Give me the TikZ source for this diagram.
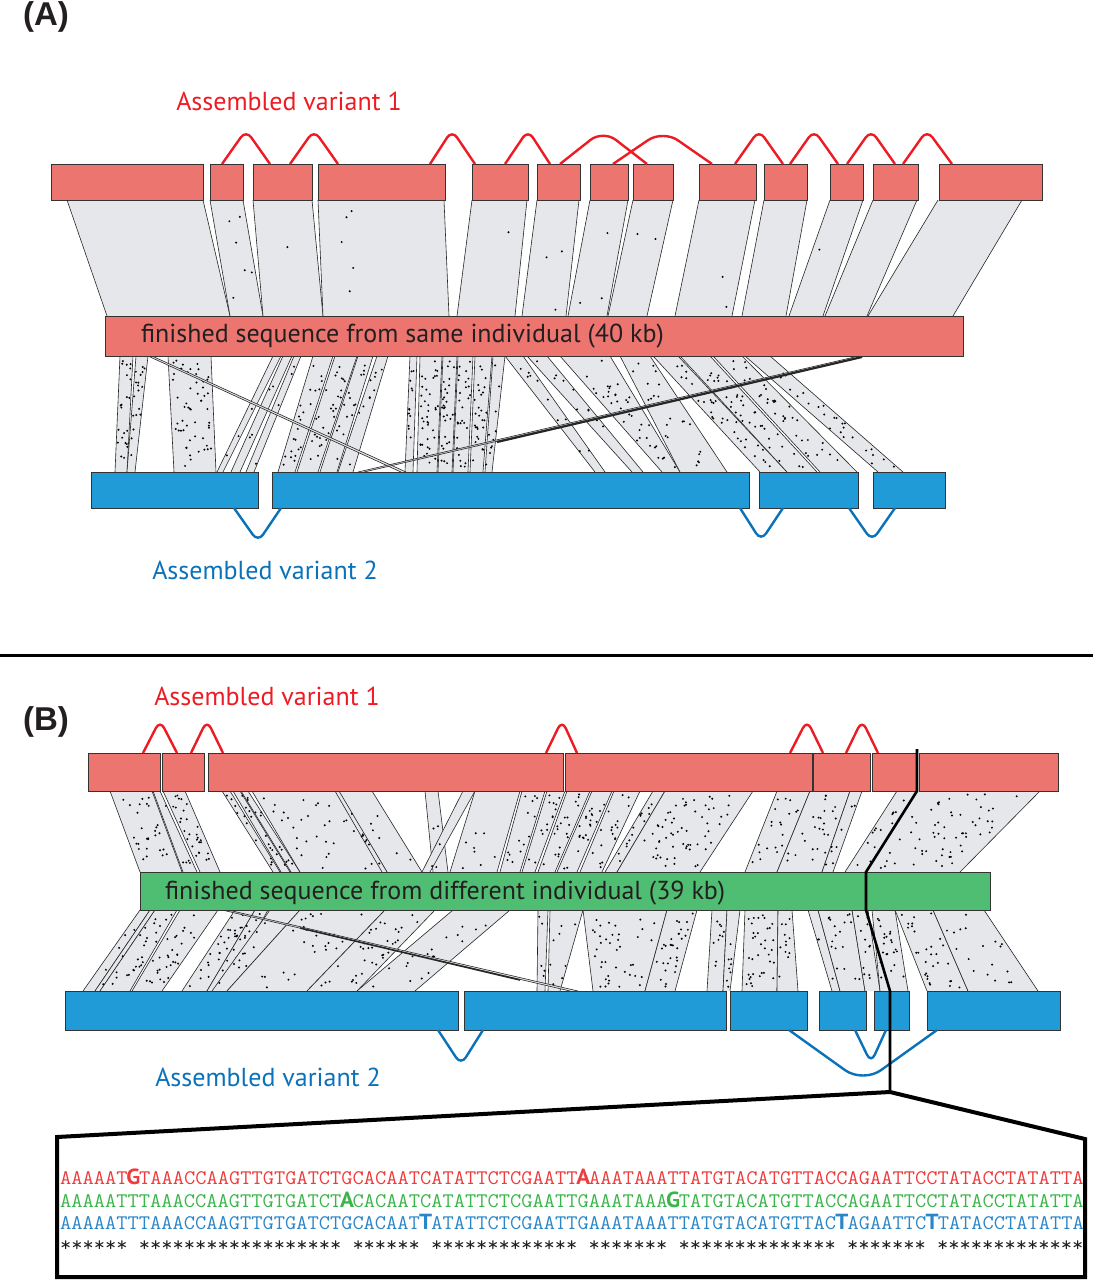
\documentclass[tikz,border=0pt]{standalone}
\usepackage{fontspec}
\usepackage{graphicx}
\newfontfamily\labfont{PT Sans}
\newfontfamily\hdfont{Liberation Sans}
\definecolor{boxred}{HTML}{EC7570}
\definecolor{boxblue}{HTML}{219BD8}
\definecolor{boxgreen}{HTML}{50BE72}
\definecolor{bandgrey}{HTML}{E6E7EA}
\definecolor{arcred}{HTML}{ED1C24}
\definecolor{arcblue}{HTML}{0A72BA}
\definecolor{seqred}{HTML}{EE3B3B}
\definecolor{seqgreen}{HTML}{3AB54A}
\definecolor{seqblue}{HTML}{2B86C7}
\definecolor{darktext}{HTML}{231F20}
\tikzset{
  rbox/.style={fill=boxred, draw=black!80, line width=0.9pt},
  bbox/.style={fill=boxblue, draw=black!80, line width=0.9pt},
  gbox/.style={fill=boxgreen, draw=black!80, line width=0.9pt},
  bandedge/.style={draw=black!85, line width=0.6pt},
  redarc/.style={draw=arcred, line width=2.4pt, rounded corners=9pt},
  bluearc/.style={draw=arcblue, line width=2.4pt, rounded corners=9pt},
  lab/.style={font=\labfont\fontsize{26}{30}\selectfont, inner sep=0pt},
  hd/.style={font=\hdfont\bfseries\fontsize{33}{36}\selectfont, inner sep=0pt, text=darktext},
  seqrow/.style={anchor=west, inner sep=0pt},
  thickpath/.style={draw=black, line width=2.6pt, line join=miter},
  darkband/.style={draw=black!85, line width=2.2pt}
}
% band: xt1 xt2 xb1 xb2 yt yb ndots
\newcommand\bnd[7]{%
  \fill[bandgrey] (#1,#5) -- (#2,#5) -- (#4,#6) -- (#3,#6) -- cycle;
  \path[bandedge] (#1,#5) -- (#3,#6) (#2,#5) -- (#4,#6);
  \ifnum#7>0
  \foreach \k in {1,...,#7}{%
    \pgfmathsetmacro\bt{0.04+0.92*rnd}%
    \pgfmathsetmacro\bs{0.08+0.84*rnd}%
    \pgfmathsetmacro\bx{(1-\bt)*(#1+\bs*(#2-#1))+\bt*(#3+\bs*(#4-#3))}%
    \pgfmathsetmacro\by{#5+\bt*(#6-#5)}%
    \fill[black] (\bx,\by) circle (1.1);
  }\fi
}
\newcommand\hlt[2]{\makebox[0.525em][c]{\textcolor{#1}{\fontsize{23}{23}\selectfont\labfont\bfseries #2}}}
\newcommand\seqfont{\fontsize{21.83}{22}\ttfamily}
\begin{document}
\begin{tikzpicture}[x=1pt,y=-1pt]
\useasboundingbox (0,0) rectangle (1093,1280);
\pgfmathsetseed{7}
% ================= PANEL A =================
\node[hd] (labA) at (46,17) {(A)};
\node[lab, text=arcred] (v1a) at (289,101) {Assembled variant 1};
% upper bands
\bnd{67}{203}{107}{230}{200}{316}{0}
\bnd{210}{243}{230}{263}{200}{316}{6}
\bnd{253}{312}{263}{323}{200}{316}{1}
\bnd{318}{444}{323}{449}{200}{316}{5}
\bnd{472}{527}{457}{515}{200}{316}{1}
\bnd{537}{579}{522}{566}{200}{316}{3}
\bnd{590}{628}{568}{607}{200}{316}{3}
\bnd{633}{673}{608}{647}{200}{316}{2}
\bnd{699}{755}{675}{732}{200}{316}{2}
\bnd{764}{807}{742}{786}{200}{316}{0}
\bnd{830}{863}{789}{823}{200}{316}{1}
\bnd{873}{917}{825}{867}{200}{316}{0}
\bnd{938}{1022}{868}{953}{200}{316}{0}
% lower bands
\bnd{120}{133}{115}{127}{356}{472}{22}
\bnd{136}{148}{127}{135}{356}{472}{18}
\bnd{168}{211}{174}{216}{356}{472}{55}
\bnd{273}{281}{217}{223}{356}{472}{3}
\bnd{283}{292}{231}{240}{356}{472}{4}
\bnd{294}{301}{246}{254}{356}{472}{4}
\bnd{313}{333}{278}{295}{356}{472}{22}
\bnd{335}{357}{297}{318}{356}{472}{28}
\bnd{358}{373}{320}{337}{356}{472}{15}
\bnd{377}{388}{338}{353}{356}{472}{10}
\bnd{410}{417}{405}{413}{356}{472}{12}
\bnd{420}{442}{417}{437}{356}{472}{40}
\bnd{443}{457}{438}{452}{356}{472}{28}
\bnd{458}{473}{453}{468}{356}{472}{28}
\bnd{475}{492}{470}{483}{356}{472}{28}
\bnd{493}{505}{485}{492}{356}{472}{10}
\bnd{505}{523}{595}{605}{356}{472}{10}
\bnd{527}{547}{632}{643}{356}{472}{10}
\bnd{560}{610}{662}{680}{356}{472}{35}
\bnd{620}{650}{680}{727}{356}{472}{22}
\bnd{653}{678}{760}{787}{356}{472}{30}
\bnd{680}{710}{787}{817}{356}{472}{35}
\bnd{713}{742}{820}{857}{356}{472}{35}
\bnd{745}{770}{878}{903}{356}{472}{25}
\bnd{148}{152}{401}{406}{356}{472}{0}
\bnd{859}{866}{358}{364}{356}{472}{0}
\coordinate (xa) at (862,357);
\coordinate (xb) at (497,442);
\draw[darkband] (xa) -- (xb);
% top boxes
\foreach \a/\b in {51/203,210/243,253/312,318/445,472/528,537/580,590/628,633/673,699/756,764/807,830/863,873/918,939/1042}
  \draw[rbox] (\a,164) rectangle (\b,200);
% red arcs
\foreach \a/\p/\b in {222/246/270,290/314/338,430/452/475,505/528/550,735/759/783,790/814/838,847/871/895,903/927/952}
  \draw[redarc] (\a,164) -- (\p,130) -- (\b,164);
\draw[redarc, rounded corners=16pt] (560,164) -- (603,130) -- (647,164);
\draw[redarc, rounded corners=18pt] (613,164) -- (663,130) -- (712,164);
% middle bar
\draw[rbox] (105,316) rectangle (963,356);
\node[lab, anchor=west, text=darktext] (fa) at (141,336) {finished sequence from same individual (40 kb)};
% bottom boxes
\foreach \a/\b in {91/258,272/749,759/858,873/945}
  \draw[bbox] (\a,472) rectangle (\b,508);
\draw[bluearc] (234,508) -- (258,542) -- (281,508);
\draw[bluearc] (740,508) -- (761,541) -- (783,508);
\draw[bluearc] (849,508) -- (872,541) -- (895,508);
\node[lab, text=arcblue] (v2a) at (265,570) {Assembled variant 2};
% divider
\draw[line width=3pt] (0,655) -- (1093,655);
% ================= PANEL B =================
\node[hd] (labB) at (46,722) {(B)};
\node[lab, text=arcred] (v1b) at (267,696) {Assembled variant 1};
% upper bands
\bnd{110}{152}{140}{182}{791}{872}{28}
\bnd{153}{160}{183}{197}{791}{872}{5}
\bnd{163}{185}{200}{220}{791}{872}{28}
\bnd{222}{230}{273}{280}{791}{872}{10}
\bnd{233}{240}{281}{290}{791}{872}{10}
\bnd{241}{248}{291}{300}{791}{872}{10}
\bnd{252}{337}{300}{385}{791}{872}{30}
\bnd{338}{372}{387}{422}{791}{872}{6}
\bnd{425}{438}{433}{448}{791}{872}{3}
\bnd{475}{520}{450}{497}{791}{872}{8}
\bnd{522}{545}{500}{520}{791}{872}{14}
\bnd{547}{565}{522}{535}{791}{872}{14}
\bnd{567}{590}{538}{555}{791}{872}{18}
\bnd{592}{612}{557}{577}{791}{872}{22}
\bnd{614}{640}{580}{602}{791}{872}{18}
\bnd{653}{665}{605}{617}{791}{872}{14}
\bnd{665}{753}{617}{700}{791}{872}{60}
\bnd{777}{810}{745}{777}{791}{872}{20}
\bnd{810}{850}{777}{822}{791}{872}{25}
\bnd{850}{862}{822}{833}{791}{872}{8}
\bnd{897}{917}{845}{866}{791}{872}{14}
\bnd{917}{1040}{866}{960}{791}{872}{60}
\bnd{335}{339}{382}{387}{791}{872}{8}
\bnd{463}{475}{422}{430}{791}{872}{2}
% lower bands
\bnd{140}{150}{83}{95}{910}{991}{4}
\bnd{150}{155}{95}{100}{910}{991}{2}
\bnd{155}{177}{100}{130}{910}{991}{25}
\bnd{180}{218}{132}{162}{910}{991}{30}
\bnd{235}{255}{182}{207}{910}{991}{28}
\bnd{255}{268}{207}{222}{910}{991}{15}
\bnd{270}{300}{212}{227}{910}{991}{10}
\bnd{300}{385}{227}{307}{910}{991}{25}
\bnd{385}{435}{307}{357}{910}{991}{35}
\bnd{453}{510}{357}{415}{910}{991}{18}
\bnd{538}{548}{537}{545}{910}{991}{5}
\bnd{550}{583}{548}{560}{910}{991}{8}
\bnd{583}{667}{593}{645}{910}{991}{40}
\bnd{667}{697}{645}{675}{910}{991}{30}
\bnd{712}{727}{707}{723}{910}{991}{10}
\bnd{727}{740}{723}{730}{910}{991}{8}
\bnd{745}{778}{742}{777}{910}{991}{35}
\bnd{778}{792}{777}{798}{910}{991}{12}
\bnd{808}{818}{832}{840}{910}{991}{3}
\bnd{818}{852}{840}{865}{910}{991}{18}
\bnd{852}{868}{865}{880}{910}{991}{12}
\bnd{872}{895}{880}{908}{910}{991}{22}
\bnd{895}{933}{927}{968}{910}{991}{30}
\bnd{933}{984}{968}{1038}{910}{991}{18}
\bnd{222}{228}{570}{578}{910}{991}{0}
\coordinate (xc) at (300,928);
\coordinate (xd) at (520,980);
\draw[draw=black!85, line width=1.6pt] (xc) -- (xd);
% top red boxes
\foreach \a/\b in {88/160,162/204,208/563,565/812,813/870,872/917,919/1058}
  \draw[rbox] (\a,753) rectangle (\b,791);
\draw[redarc] (143,753) -- (160,720) -- (177,753);
\draw[redarc] (191,753) -- (207,720) -- (223,753);
\draw[redarc] (546,753) -- (562,720) -- (577,753);
\draw[redarc] (790,753) -- (807,720) -- (823,753);
\draw[redarc] (846,753) -- (862,720) -- (878,753);
% green bar
\draw[gbox] (140,872) rectangle (990,910);
\node[lab, anchor=west, text=darktext] (fb) at (165,893) {finished sequence from different individual (39 kb)};
% bottom blue boxes
\foreach \a/\b in {65/458,464/726,730/807,819/866,874/909,927/1060}
  \draw[bbox] (\a,991) rectangle (\b,1030);
\draw[bluearc] (438,1030) -- (461,1065) -- (483,1030);
\draw[bluearc] (855,1030) -- (871,1063) -- (886,1030);
\draw[bluearc, rounded corners=22pt] (789,1030) -- (863,1083) -- (937,1030);
\node[lab, text=arcblue] (v2b) at (268,1077) {Assembled variant 2};
% zoom path
\coordinate (z0) at (917,749);
\coordinate (z1) at (917,791);
\coordinate (z2) at (866,872);
\coordinate (z3) at (866,910);
\coordinate (z4) at (890,991);
\coordinate (z5) at (890,1092);
\draw[thickpath] (z0) -- (z1) -- (z2) -- (z3) -- (z4) -- (z5);
\coordinate (zl) at (57,1137);
\coordinate (zbl) at (57,1277);
\coordinate (zbr) at (1085,1277);
\coordinate (zr) at (1085,1139);
\draw[draw=black, line width=4pt, line join=miter] (z5) -- (zl) -- (zbl) -- (zbr) -- (zr) -- cycle;
% sequences
\node[seqrow] (s1) at (60,1177) {\scalebox{1}[0.95]{\seqfont\color{seqred}AAAAAT\hlt{seqred}{G}TAAACCAAGTTGTGATCTGCACAATCATATTCTCGAATT\hlt{seqred}{A}AAATAAATTATGTACATGTTACCAGAATTCCTATACCTATATTA}};
\node[seqrow] (s2) at (60,1199.5) {\scalebox{1}[0.95]{\seqfont\color{seqgreen}AAAAATTTAAACCAAGTTGTGATCT\hlt{seqgreen}{A}CACAATCATATTCTCGAATTGAAATAAA\hlt{seqgreen}{G}TATGTACATGTTACCAGAATTCCTATACCTATATTA}};
\node[seqrow] (s3) at (60,1222) {\scalebox{1}[0.95]{\seqfont\color{seqblue}AAAAATTTAAACCAAGTTGTGATCTGCACAAT\hlt{seqblue}{T}ATATTCTCGAATTGAAATAAATTATGTACATGTTAC\hlt{seqblue}{T}AGAATTC\hlt{seqblue}{T}TATACCTATATTA}};
\node[seqrow] (s4) at (60,1246) {\scalebox{1}[0.95]{\seqfont\color{darktext}****** ****************** ****** ************* ******* ************** ******* *************}};
\end{tikzpicture}
\end{document}
